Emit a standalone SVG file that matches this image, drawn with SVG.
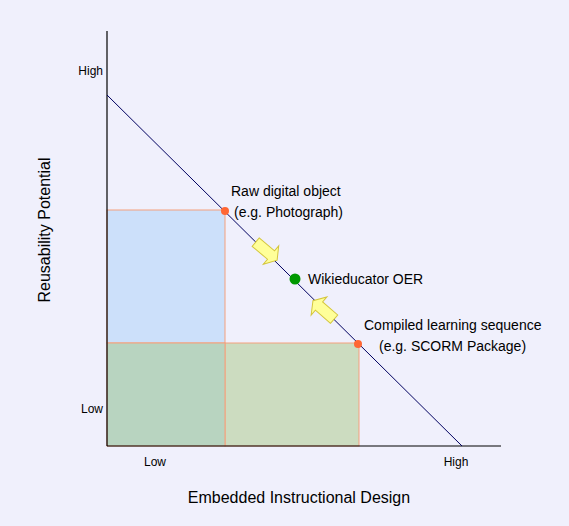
<svg xmlns="http://www.w3.org/2000/svg" width="569" height="526" viewBox="0 0 569 526">
<style>
text{font-family:"Liberation Sans",Arial,sans-serif;fill:#000}
.ax{stroke:#000;stroke-width:1.2;fill:none}
.zone{stroke:#f4a07c;stroke-width:1}
.arrow{fill:#ffff99;stroke:#d4c63c;stroke-width:1}
.lbl{font-size:14px}
.tick{font-size:12px}
.title{font-size:16px}
</style>
<defs>
<polygon id="blk" points="-20,-5.5 0,-5.5 0,-12 8,0 0,12 0,5.5 -20,5.5"/>
</defs>
<rect width="569" height="526" fill="#f0f0fc"/>
<g id="zones">
<rect id="zone-blue" class="zone" x="107" y="210" width="118" height="133" fill="#cce0fa"/>
<rect id="zone-green" class="zone" x="225" y="343" width="134" height="103" fill="#ccdcc0"/>
<rect id="zone-overlap" class="zone" x="107" y="343" width="118" height="103" fill="#b8d4c0"/>
</g>
<g id="connectors">
<line class="ax" x1="107" y1="31" x2="107" y2="446"/>
<line class="ax" x1="107" y1="446" x2="501" y2="446"/>
<line x1="107" y1="95" x2="462" y2="446" stroke="#000060" stroke-width="1"/>
<use href="#blk" class="arrow" transform="translate(271,255) rotate(40)"/>
<use href="#blk" class="arrow" transform="translate(319,306) rotate(221)"/>
</g>
<g id="node-raw">
<circle cx="225" cy="211" r="4" fill="#ff6633"/>
<text class="lbl" x="231" y="196">Raw digital object</text>
<text class="lbl" x="234" y="217">(e.g. Photograph)</text>
</g>
<g id="node-oer">
<circle cx="295" cy="279" r="5.5" fill="#009900"/>
<text class="lbl" x="308" y="284">Wikieducator OER</text>
</g>
<g id="node-compiled">
<circle cx="358" cy="344" r="4" fill="#ff6633"/>
<text class="lbl" x="364" y="330">Compiled learning sequence</text>
<text class="lbl" x="379" y="351">(e.g. SCORM Package)</text>
</g>
<g id="axis-labels">
<text class="tick" x="103" y="75" text-anchor="end">High</text>
<text class="tick" x="103" y="413" text-anchor="end">Low</text>
<text class="tick" x="155" y="466" text-anchor="middle">Low</text>
<text class="tick" x="456" y="466" text-anchor="middle">High</text>
<text class="title" x="299" y="503" text-anchor="middle">Embedded Instructional Design</text>
<text class="title" transform="translate(50,230) rotate(-90)" text-anchor="middle">Reusability Potential</text>
</g>
</svg>
